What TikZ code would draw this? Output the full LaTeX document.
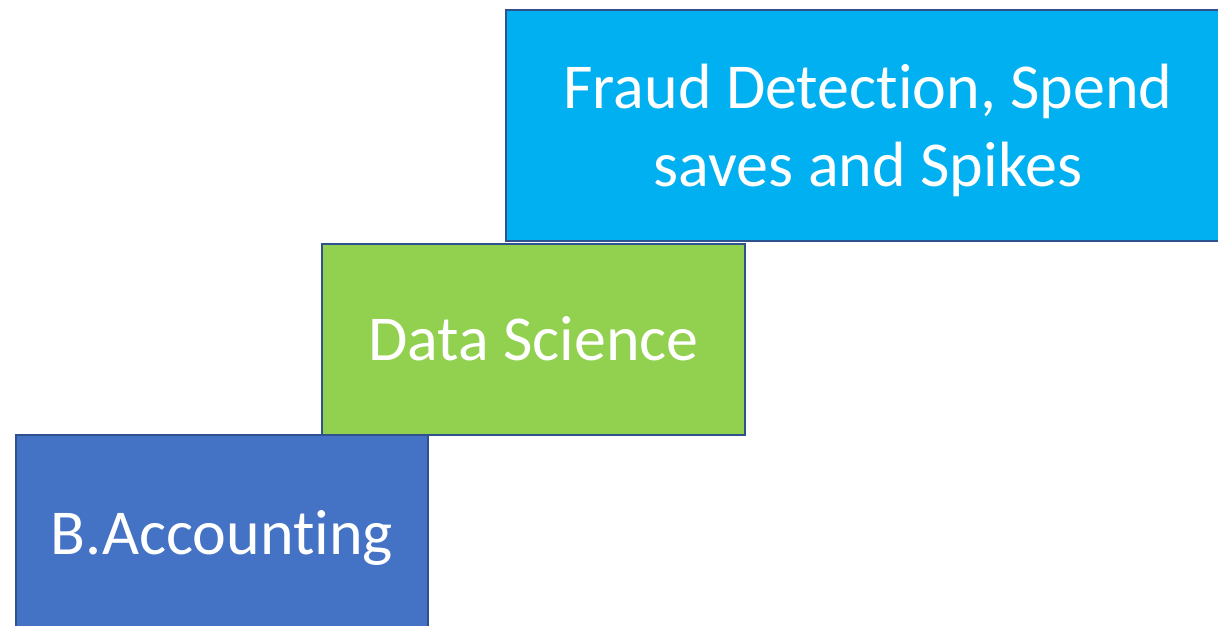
\documentclass[tikz,border=0pt]{standalone}
\usepackage{fontspec}
\setmainfont[Ligatures=NoCommon]{Carlito}
\definecolor{edgeblue}{HTML}{2F528F}
\definecolor{boxblue}{HTML}{4472C4}
\definecolor{boxgreen}{HTML}{92D050}
\definecolor{boxcyan}{HTML}{00B0F0}
\begin{document}
\begin{tikzpicture}[x=1pt,y=-1pt,
  stepbox/.style={draw=edgeblue,line width=2pt,anchor=north west,inner sep=0pt,
    text=white,align=center,font=\fontsize{64}{78}\selectfont},
  single/.style={text height=41pt,text depth=0pt}]
\useasboundingbox (0,0) rectangle (1218,625);
\clip (0,0) rectangle (1218,625);
\node[stepbox,fill=boxcyan,minimum width=724pt,minimum height=231pt] (fraud) at (505,9)
  {\rule{0pt}{55pt}Fraud Detection, Spend\\saves and Spikes};
\node[stepbox,fill=boxgreen,single,minimum width=423pt,minimum height=191pt] (ds) at (321,243)
  {Data Science};
\node[stepbox,fill=boxblue,single,minimum width=412pt,minimum height=198pt] (acc) at (15,434)
  {B.Accounting};
\end{tikzpicture}
\end{document}
